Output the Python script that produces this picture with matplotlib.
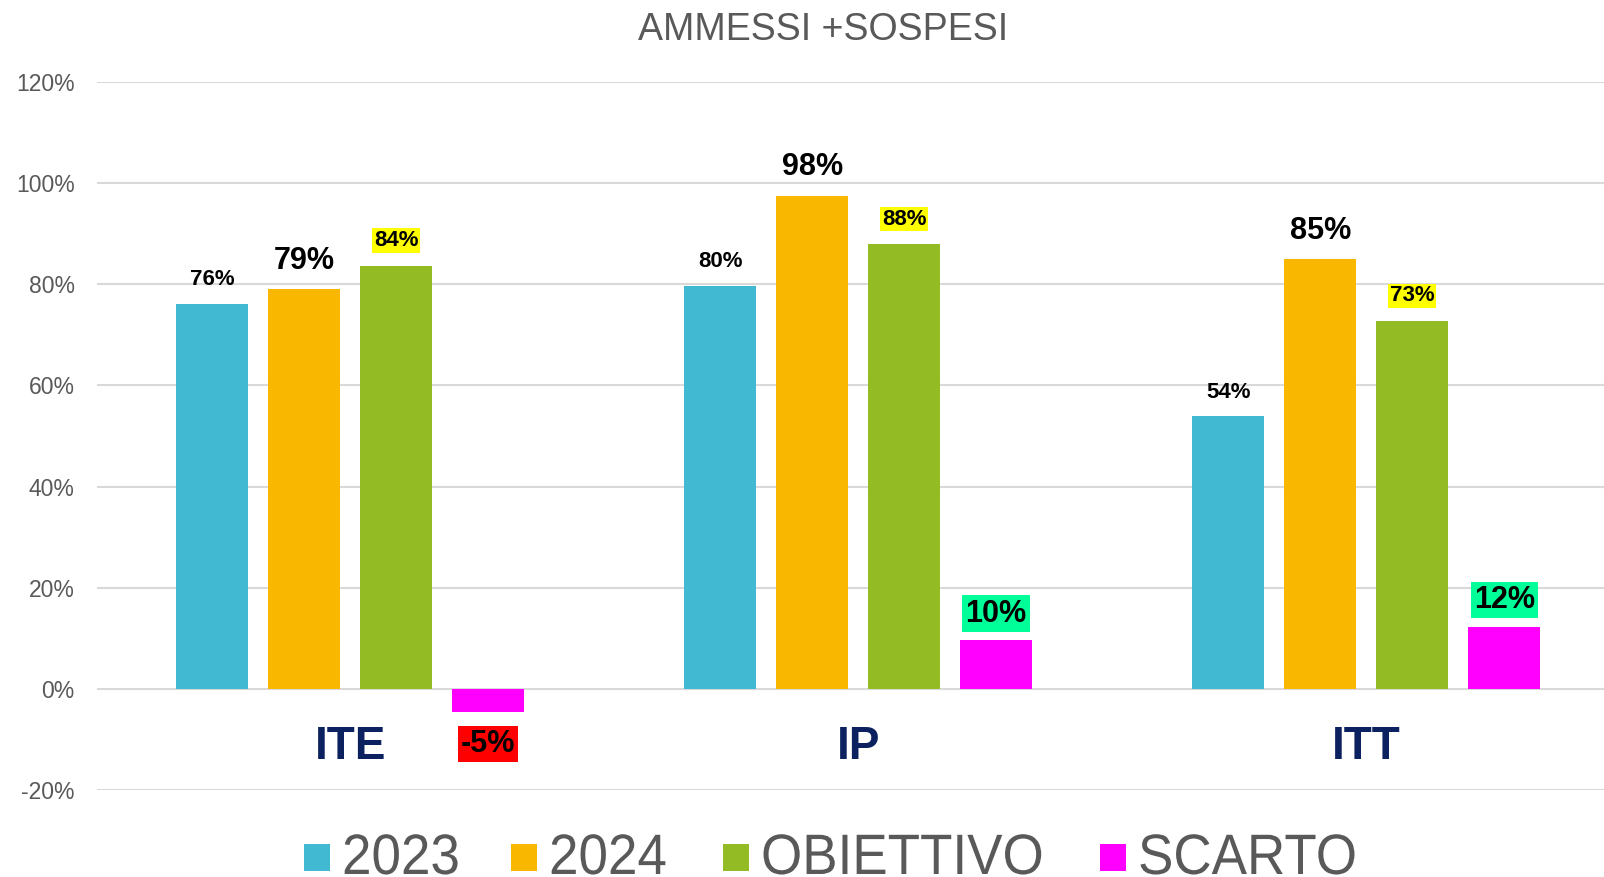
import matplotlib.pyplot as plt
from matplotlib import font_manager
from matplotlib.font_manager import FontProperties
from matplotlib.patches import PathPatch, Rectangle
from matplotlib.textpath import TextPath
from matplotlib.transforms import Affine2D
import numpy as np

categories = ["ITE", "IP", "ITT"]
series = ["2023", "2024", "OBIETTIVO", "SCARTO"]
v2023 = [0.761, 0.797, 0.539]
v2024 = [0.791, 0.975, 0.850]
obiettivo = [0.837, 0.879, 0.727]
scarto = [-0.046, 0.097, 0.123]
yticks = [-0.2, 0.0, 0.2, 0.4, 0.6, 0.8, 1.0, 1.2]

colors = ["#41B9D2", "#F9B700", "#93BC24", "#FF00FF"]

names = {f.name for f in font_manager.fontManager.ttflist}
base = "Liberation Sans" if "Liberation Sans" in names else "DejaVu Sans"
plt.rcParams["font.family"] = base

W, H = 1604, 877
fig = plt.figure(figsize=(W / 100, H / 100), dpi=100)
ax = fig.add_axes([0.0605, 0.0992, 0.9395, 0.8073])

x = np.arange(len(categories))
step = 0.181
width = 0.141
all_vals = [v2023, v2024, obiettivo, scarto]
for i, (vals, c, name) in enumerate(zip(all_vals, colors, series)):
    xs = x + (i - 1.5) * step
    ax.bar(xs, vals, width, color=c, label=name, zorder=3)
    for xi, v in zip(xs, vals):
        txt = f"{round(v * 100):.0f}%"
        if i == 0:
            ax.text(xi, v + 0.048, txt, ha="center", va="center",
                    fontsize=16, fontweight="bold", color="black", zorder=4)
        elif i == 1:
            ax.text(xi, v + 0.056, txt, ha="center", va="center",
                    fontsize=22, fontweight="bold", color="black", zorder=4)
        elif i == 2:
            ax.text(xi, v + 0.05, txt, ha="center", va="center",
                    fontsize=16, fontweight="bold", color="black", zorder=4,
                    bbox=dict(boxstyle="square,pad=0.08", fc="#FFFF00", ec="none"))
        else:
            if v < 0:
                ypos, bg = -0.109, "#FF0000"
            else:
                ypos, bg = v + 0.052, "#00FF99"
            ax.text(xi, ypos, txt, ha="center", va="center",
                    fontsize=22, fontweight="bold", color="black", zorder=4,
                    bbox=dict(boxstyle="square,pad=0.1", fc=bg, ec="none"))

for xi, cat in zip(x, categories):
    ax.text(xi, -0.115, cat, ha="center", va="center", fontsize=33,
            fontweight="bold", color="#0C215F")

ax.set_xlim(-0.498, 2.468)
ax.set_ylim(-0.2, 1.2)
ax.set_yticks(yticks)
ax.set_yticklabels([f"{t * 100:.0f}%" for t in yticks])
ax.set_xticks([])
ax.tick_params(axis="y", length=0, pad=16, labelsize=16.5, labelcolor="#595959")
ax.grid(axis="y", color="#D9D9D9", linewidth=1.5, zorder=0)
ax.set_axisbelow(True)
for s in ax.spines.values():
    s.set_visible(False)

fig.text(0.513, 0.966, "AMMESSI +SOSPESI", ha="center", va="center",
         fontsize=27, color="#595959")

# legend drawn by hand: the original uses a narrow face
lax = fig.add_axes([0, 0, 1, 1], facecolor="none")
lax.set_xlim(0, W)
lax.set_ylim(0, H)
lax.axis("off")
prop = FontProperties(family=base)
square_x = [304, 511, 723, 1100]
for sx, c, name in zip(square_x, colors, series):
    lax.add_patch(Rectangle((sx, 6), 26, 27, color=c, lw=0))
    tp = TextPath((0, 0), name, size=57, prop=prop)
    tr = Affine2D().scale(0.93, 1.0).translate(sx + 38, 3)
    lax.add_patch(PathPatch(tr.transform_path(tp), color="#595959", lw=0))

fig.savefig("out.png", dpi=100)
